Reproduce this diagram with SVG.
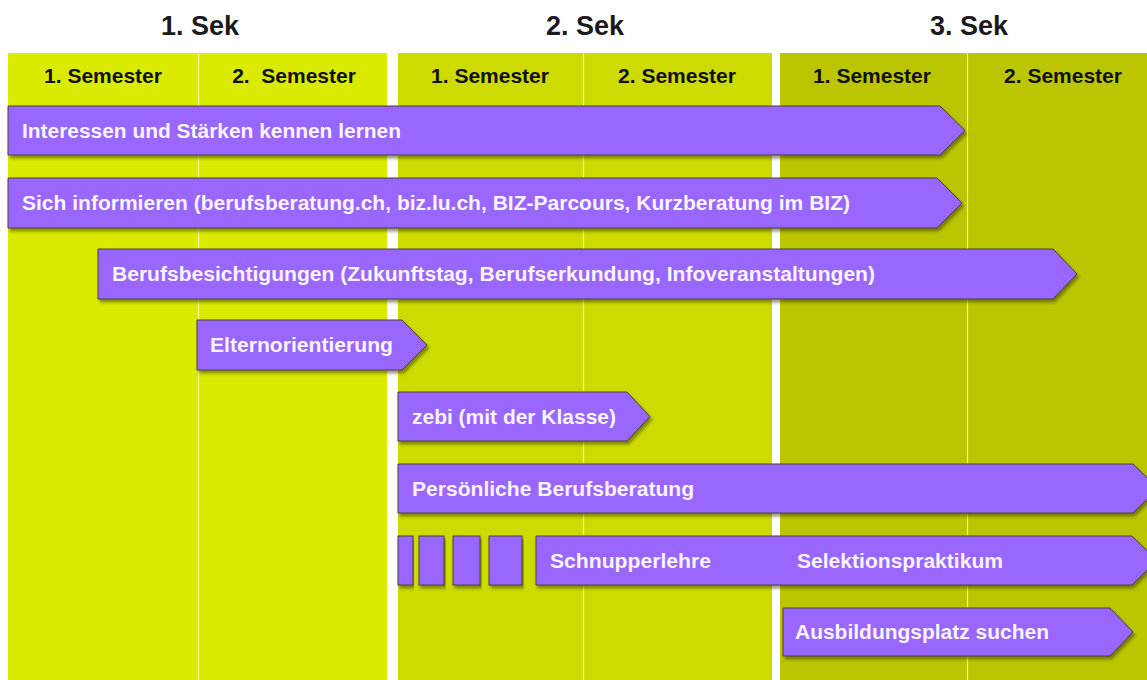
<svg xmlns="http://www.w3.org/2000/svg" width="1147" height="680" viewBox="0 0 1147 680">
<defs>
<filter id="sh" x="-5%" y="-20%" width="110%" height="150%">
<feDropShadow dx="2" dy="3" stdDeviation="1.8" flood-color="#303000" flood-opacity="0.5"/>
</filter>
</defs>
<style>
.sek{font-family:"Liberation Sans",Arial,sans-serif;font-weight:bold;font-size:27px;fill:#1a1a1a;text-anchor:middle}
.sem{font-family:"Liberation Sans",Arial,sans-serif;font-weight:bold;font-size:21px;fill:#111;text-anchor:middle}
.bar{fill:#9966ff;stroke:#4d4038;stroke-width:1;filter:url(#sh)}
.lbl{font-family:"Liberation Sans",Arial,sans-serif;font-weight:bold;font-size:20px;fill:#f8f4ff}
.div{stroke:#f4f8c0;stroke-width:1.2;opacity:0.8}
</style>
<rect width="1147" height="680" fill="#ffffff"/>
<g id="columns">
<rect x="8" y="53" width="379" height="627" fill="#dbeb00"/>
<rect x="398" y="53" width="374" height="627" fill="#cddb00"/>
<rect x="780" y="53" width="367" height="627" fill="#bbc600"/>
<line class="div" x1="198.5" y1="53" x2="198.5" y2="680"/>
<line class="div" x1="583.5" y1="53" x2="583.5" y2="680"/>
<line class="div" x1="967.5" y1="53" x2="967.5" y2="680"/>
</g>
<g id="headers">
<text class="sek" x="200" y="35">1. Sek</text>
<text class="sek" x="585" y="35">2. Sek</text>
<text class="sek" x="969" y="35">3. Sek</text>
<text class="sem" x="103" y="83">1. Semester</text>
<text class="sem" x="294" y="83" xml:space="preserve">2.  Semester</text>
<text class="sem" x="490" y="83">1. Semester</text>
<text class="sem" x="677" y="83">2. Semester</text>
<text class="sem" x="872" y="83">1. Semester</text>
<text class="sem" x="1063" y="83">2. Semester</text>
</g>
<g id="connectors"></g>
<g id="interessen">
<polygon class="bar" points="8,106 940,106 965,130.5 940,155 8,155"/>
<text class="lbl" x="22" y="138" textLength="379" lengthAdjust="spacingAndGlyphs">Interessen und Stärken kennen lernen</text>
</g>
<g id="informieren">
<polygon class="bar" points="8,178 937,178 962,203 937,228 8,228"/>
<text class="lbl" x="22" y="210" textLength="828" lengthAdjust="spacingAndGlyphs">Sich informieren (berufsberatung.ch, biz.lu.ch, BIZ-Parcours, Kurzberatung im BIZ)</text>
</g>
<g id="besichtigungen">
<polygon class="bar" points="98,249 1053,249 1077,274 1053,299 98,299"/>
<text class="lbl" x="112" y="281" textLength="763" lengthAdjust="spacingAndGlyphs">Berufsbesichtigungen (Zukunftstag, Berufserkundung, Infoveranstaltungen)</text>
</g>
<g id="eltern">
<polygon class="bar" points="197,320 402,320 427,345 402,370 197,370"/>
<text class="lbl" x="210" y="352" textLength="183" lengthAdjust="spacingAndGlyphs">Elternorientierung</text>
</g>
<g id="zebi">
<polygon class="bar" points="398,392 627,392 650,416.5 627,441 398,441"/>
<text class="lbl" x="412" y="424" textLength="204" lengthAdjust="spacingAndGlyphs">zebi (mit der Klasse)</text>
</g>
<g id="beratung">
<polygon class="bar" points="398,464 1133,464 1158,488.5 1133,513 398,513"/>
<text class="lbl" x="412" y="496" textLength="282" lengthAdjust="spacingAndGlyphs">Persönliche Berufsberatung</text>
</g>
<g id="schnupper-boxes">
<rect class="bar" x="398" y="536" width="15" height="49"/>
<rect class="bar" x="419" y="536" width="25" height="49"/>
<rect class="bar" x="453" y="536" width="27" height="49"/>
<rect class="bar" x="489" y="536" width="33" height="49"/>
</g>
<g id="schnupper">
<polygon class="bar" points="536,536 1132,536 1157,560.5 1132,585 536,585"/>
<text class="lbl" x="550" y="568" textLength="161" lengthAdjust="spacingAndGlyphs">Schnupperlehre</text>
<text class="lbl" x="797" y="568" textLength="206" lengthAdjust="spacingAndGlyphs">Selektionspraktikum</text>
</g>
<g id="ausbildung">
<polygon class="bar" points="783,608 1110,608 1133,632 1110,656 783,656"/>
<text class="lbl" x="795" y="639" textLength="254" lengthAdjust="spacingAndGlyphs">Ausbildungsplatz suchen</text>
</g>
</svg>
